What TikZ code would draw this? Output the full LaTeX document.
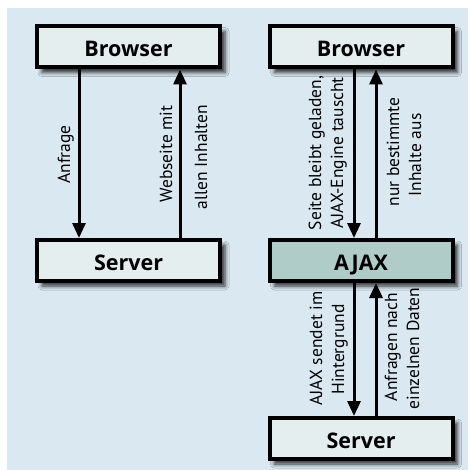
\documentclass[tikz,border=0pt]{standalone}
\usepackage{fontspec}
\setmainfont{PT Sans}
\newfontfamily\boxfont{Open Sans}
\usetikzlibrary{arrows.meta,calc,shadows.blur}
\definecolor{bgblue}{RGB}{218,232,242}
\definecolor{boxfill}{RGB}{228,238,238}
\definecolor{ajaxfill}{RGB}{176,204,201}
\begin{document}
\begin{tikzpicture}[x=1pt,y=-1pt,
  box/.style={draw=black, line width=4pt, fill=boxfill, minimum width=183pt, minimum height=41pt,
    inner sep=0pt, font=\boxfont\bfseries\fontsize{21.5}{22}\selectfont, text height=19.5pt, text depth=0pt,
    blur shadow={shadow xshift=5pt, shadow yshift=-5pt, shadow blur radius=4pt, shadow opacity=80}},
  arr/.style={line width=3pt, -{Triangle[length=15pt,width=13pt]}},
  lbl/.style={rotate=90, anchor=base, inner sep=0pt, font=\fontsize{17.5}{22}\selectfont}
]
\useasboundingbox (0,0) rectangle (468,470);
\fill[bgblue] (7,8) rectangle (468,470);

\node[box] (b1) at (128.5,47) {Browser};
\node[box] (s1) at (128.5,260.5) {Server};
\node[box] (b2) at (361,47) {Browser};
\node[box, fill=ajaxfill] (aj) at (361,260.5) {AJAX};
\node[box] (s2) at (361,438.5) {Server};

% left arrows
\draw[arr] (b1.south -| 79,0) -- (s1.north -| 79,0);
\draw[arr] (s1.north -| 180,0) -- (b1.south -| 180,0);
% right upper arrows
\draw[arr] (b2.south -| 354,0) -- (aj.north -| 354,0);
\draw[arr] (aj.north -| 376,0) -- (b2.south -| 376,0);
% right lower arrows
\draw[arr] (aj.south -| 354,0) -- (s2.north -| 354,0);
\draw[arr] (s2.north -| 376,0) -- (aj.south -| 376,0);

% labels
\node[lbl] (l1) at (70,154.5) {Anfrage};
\node[lbl] (l2) at (172,154) {Webseite mit};
\node[lbl] (l3) at (207,157) {allen Inhalten};
\node[lbl] (l4) at (321,153) {Seite bleibt geladen,};
\node[lbl] (l5) at (343,153) {AJAX-Engine tauscht};
\node[lbl] (l6) at (399,152) {nur bestimmte};
\node[lbl] (l7) at (421,155) {Inhalte aus};
\node[lbl] (l8) at (322,348.5) {AJAX sendet im};
\node[lbl] (l9) at (344,349.5) {Hintergrund};
\node[lbl] (l10) at (397,347) {Anfragen nach};
\node[lbl] (l11) at (419,348.5) {einzelnen Daten};
\end{tikzpicture}
\end{document}
